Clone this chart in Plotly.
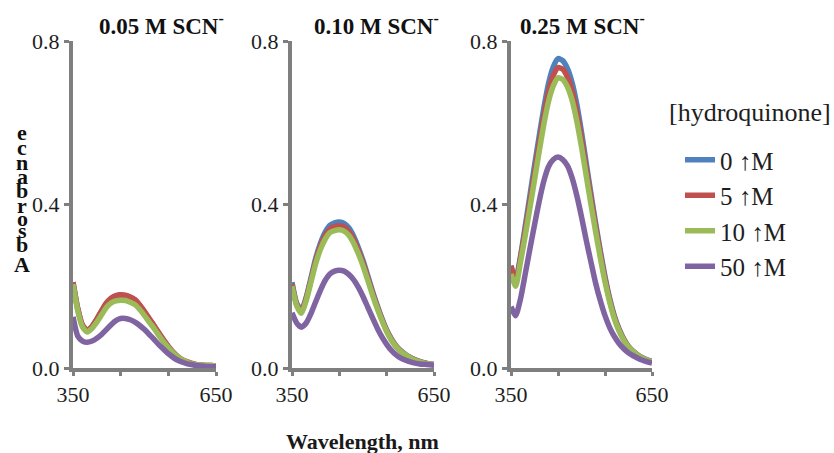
import plotly.graph_objects as go

wavelength = list(range(350, 651, 10))

panel_titles = ["0.05 M SCN<sup>-</sup>", "0.10 M SCN<sup>-</sup>", "0.25 M SCN<sup>-</sup>"]
series_names = ["0 \u2191M", "5 \u2191M", "10 \u2191M", "50 \u2191M"]
series_colors = ["#4f81bd", "#c0504d", "#9bbb59", "#8064a2"]

# 0.05 M SCN-
abs_005_0 = [0.21, 0.145, 0.104, 0.092, 0.101, 0.119, 0.139, 0.158, 0.17, 0.176, 0.178, 0.177, 0.173, 0.166, 0.153, 0.137, 0.12, 0.103, 0.085, 0.068, 0.052, 0.038, 0.027, 0.019, 0.014, 0.01, 0.008, 0.007, 0.006, 0.006, 0.005]
abs_005_5 = [0.21, 0.145, 0.104, 0.092, 0.102, 0.12, 0.14, 0.159, 0.171, 0.177, 0.179, 0.178, 0.174, 0.167, 0.154, 0.138, 0.121, 0.104, 0.086, 0.069, 0.053, 0.039, 0.028, 0.02, 0.015, 0.011, 0.008, 0.007, 0.006, 0.006, 0.005]
abs_005_10 = [0.205, 0.14, 0.1, 0.088, 0.097, 0.112, 0.13, 0.148, 0.159, 0.164, 0.166, 0.165, 0.161, 0.155, 0.143, 0.128, 0.112, 0.097, 0.08, 0.064, 0.05, 0.037, 0.027, 0.019, 0.014, 0.01, 0.008, 0.007, 0.006, 0.006, 0.005]
abs_005_50 = [0.125, 0.078, 0.066, 0.063, 0.066, 0.073, 0.082, 0.094, 0.106, 0.116, 0.121, 0.121, 0.118, 0.112, 0.104, 0.094, 0.082, 0.07, 0.057, 0.046, 0.035, 0.026, 0.019, 0.014, 0.01, 0.008, 0.006, 0.005, 0.004, 0.003, 0.003]

# 0.10 M SCN-
abs_010_0 = [0.21, 0.158, 0.142, 0.173, 0.22, 0.268, 0.305, 0.332, 0.349, 0.355, 0.357, 0.354, 0.343, 0.323, 0.295, 0.263, 0.226, 0.188, 0.153, 0.121, 0.093, 0.071, 0.054, 0.042, 0.033, 0.026, 0.02, 0.016, 0.013, 0.01, 0.009]
abs_010_5 = [0.205, 0.155, 0.138, 0.17, 0.215, 0.262, 0.298, 0.324, 0.34, 0.346, 0.348, 0.345, 0.334, 0.315, 0.288, 0.257, 0.221, 0.184, 0.15, 0.119, 0.091, 0.07, 0.053, 0.041, 0.032, 0.025, 0.02, 0.015, 0.012, 0.01, 0.008]
abs_010_10 = [0.2, 0.152, 0.134, 0.165, 0.21, 0.255, 0.29, 0.315, 0.331, 0.336, 0.338, 0.335, 0.325, 0.306, 0.28, 0.25, 0.215, 0.179, 0.146, 0.116, 0.089, 0.068, 0.052, 0.04, 0.032, 0.025, 0.019, 0.015, 0.012, 0.01, 0.008]
abs_010_50 = [0.135, 0.11, 0.1, 0.11, 0.133, 0.162, 0.19, 0.214, 0.23, 0.237, 0.239, 0.237, 0.229, 0.216, 0.198, 0.175, 0.149, 0.123, 0.098, 0.076, 0.058, 0.043, 0.032, 0.024, 0.019, 0.015, 0.012, 0.01, 0.009, 0.008, 0.007]

# 0.25 M SCN-
abs_025_0 = [0.25, 0.215, 0.272, 0.345, 0.42, 0.495, 0.567, 0.637, 0.697, 0.737, 0.757, 0.752, 0.733, 0.698, 0.645, 0.577, 0.502, 0.427, 0.355, 0.287, 0.224, 0.17, 0.127, 0.095, 0.071, 0.053, 0.041, 0.032, 0.025, 0.02, 0.016]
abs_025_5 = [0.25, 0.21, 0.267, 0.335, 0.405, 0.478, 0.55, 0.618, 0.677, 0.716, 0.735, 0.731, 0.712, 0.678, 0.626, 0.561, 0.488, 0.416, 0.346, 0.28, 0.218, 0.166, 0.124, 0.093, 0.07, 0.052, 0.04, 0.031, 0.024, 0.019, 0.016]
abs_025_10 = [0.23, 0.2, 0.258, 0.322, 0.39, 0.46, 0.53, 0.597, 0.653, 0.69, 0.71, 0.706, 0.688, 0.655, 0.604, 0.541, 0.471, 0.401, 0.334, 0.27, 0.211, 0.161, 0.12, 0.09, 0.068, 0.051, 0.04, 0.031, 0.024, 0.019, 0.016]
abs_025_50 = [0.15, 0.128, 0.168, 0.228, 0.29, 0.35, 0.408, 0.458, 0.493, 0.51, 0.516, 0.51, 0.495, 0.465, 0.422, 0.37, 0.313, 0.26, 0.208, 0.165, 0.128, 0.099, 0.077, 0.06, 0.047, 0.037, 0.03, 0.024, 0.019, 0.015, 0.012]

panels = [
    [abs_005_0, abs_005_5, abs_005_10, abs_005_50],
    [abs_010_0, abs_010_5, abs_010_10, abs_010_50],
    [abs_025_0, abs_025_5, abs_025_10, abs_025_50],
]

x_major_ticks = [350, 650]
x_minor_ticks = [450, 550]
y_ticks = [0.0, 0.4, 0.8]
y_ticktext = ["0.0", "0.4", "0.8"]

y_label_letters = list("ecnabrosbA")
x_label = "Wavelength, nm"
legend_title = "[hydroquinone]"

W, H = 834, 453
SERIF = "Liberation Serif"
AXIS_GREY = "#7f7f7f"
TEXT = "#1e1e1e"

# panel pixel geometry (left, right)
panel_px = [(73, 216), (292, 434), (511, 652)]
y_top_px, y_bot_px = 41, 368

fig = go.Figure()

for p, series in enumerate(panels):
    xa = "x" if p == 0 else f"x{p+1}"
    ya = "y" if p == 0 else f"y{p+1}"
    for s, vals in enumerate(series):
        fig.add_trace(go.Scatter(
            x=wavelength, y=vals, xaxis=xa, yaxis=ya,
            mode="lines", line=dict(color=series_colors[s], width=5.5, shape="spline", smoothing=0.6),
            name=series_names[s], legendgroup=series_names[s], showlegend=(p == 2),
        ))

layout = dict(
    width=W, height=H, margin=dict(l=0, r=0, t=0, b=0, pad=0, autoexpand=False),
    paper_bgcolor="white", plot_bgcolor="white",
    font=dict(family=SERIF, size=20, color=TEXT),
    legend=dict(x=680 / W, y=1 - 137 / H, xanchor="left", yanchor="top",
                font=dict(family=SERIF, size=25, color=TEXT),
                tracegroupgap=0, itemwidth=30, bgcolor="rgba(0,0,0,0)"),
)
for p, (l, r) in enumerate(panel_px):
    suffix = "" if p == 0 else str(p + 1)
    layout["xaxis" + suffix] = dict(
        domain=[l / W, r / W], range=[350, 650], anchor="y" + suffix, automargin=False,
        showline=True, linecolor=AXIS_GREY, linewidth=4, showgrid=False, zeroline=False,
        tickmode="array", tickvals=x_major_ticks,
        ticks="outside", ticklen=4, tickwidth=3, tickcolor=AXIS_GREY,
        minor=dict(tickmode="array", tickvals=x_minor_ticks, ticks="outside",
                   ticklen=4, tickwidth=3, tickcolor=AXIS_GREY, showgrid=False),
        tickfont=dict(family=SERIF, size=22, color=TEXT),
    )
    layout["yaxis" + suffix] = dict(
        domain=[1 - y_bot_px / H, 1 - y_top_px / H], range=[0, 0.8], anchor="x" + suffix, automargin=False,
        showline=True, linecolor=AXIS_GREY, linewidth=4, showgrid=False, zeroline=False,
        tickmode="array", tickvals=y_ticks, ticktext=y_ticktext,
        ticks="outside", ticklen=5, tickwidth=3, tickcolor=AXIS_GREY,
        tickfont=dict(family=SERIF, size=22, color=TEXT),
    )
fig.update_layout(**layout)

annotations = []
title_centers = [161, 376, 582]
for p, t in enumerate(panel_titles):
    annotations.append(dict(text="<b>" + t + "</b>", x=title_centers[p] / W, y=1 - 24 / H,
                            xref="paper", yref="paper", showarrow=False,
                            font=dict(family=SERIF, size=23, color="#111111"),
                            xanchor="center", yanchor="middle"))

letter_y = [133, 147, 162, 176, 191, 205, 218, 230, 244, 264]
for ch, ly in zip(y_label_letters, letter_y):
    annotations.append(dict(text="<b>" + ch + "</b>", x=22 / W, y=1 - ly / H,
                            xref="paper", yref="paper", showarrow=False,
                            font=dict(family=SERIF, size=22, color="#111111"),
                            xanchor="center", yanchor="middle"))

annotations.append(dict(text="<b>" + x_label + "</b>", x=362 / W, y=1 - 441 / H,
                        xref="paper", yref="paper", showarrow=False,
                        font=dict(family=SERIF, size=22, color="#1a1a1a"),
                        xanchor="center", yanchor="middle"))
annotations.append(dict(text=legend_title, x=667 / W, y=1 - 112 / H,
                        xref="paper", yref="paper", showarrow=False,
                        font=dict(family=SERIF, size=26, color=TEXT),
                        xanchor="left", yanchor="middle"))
fig.update_layout(annotations=annotations)

fig.write_html("out.html")
